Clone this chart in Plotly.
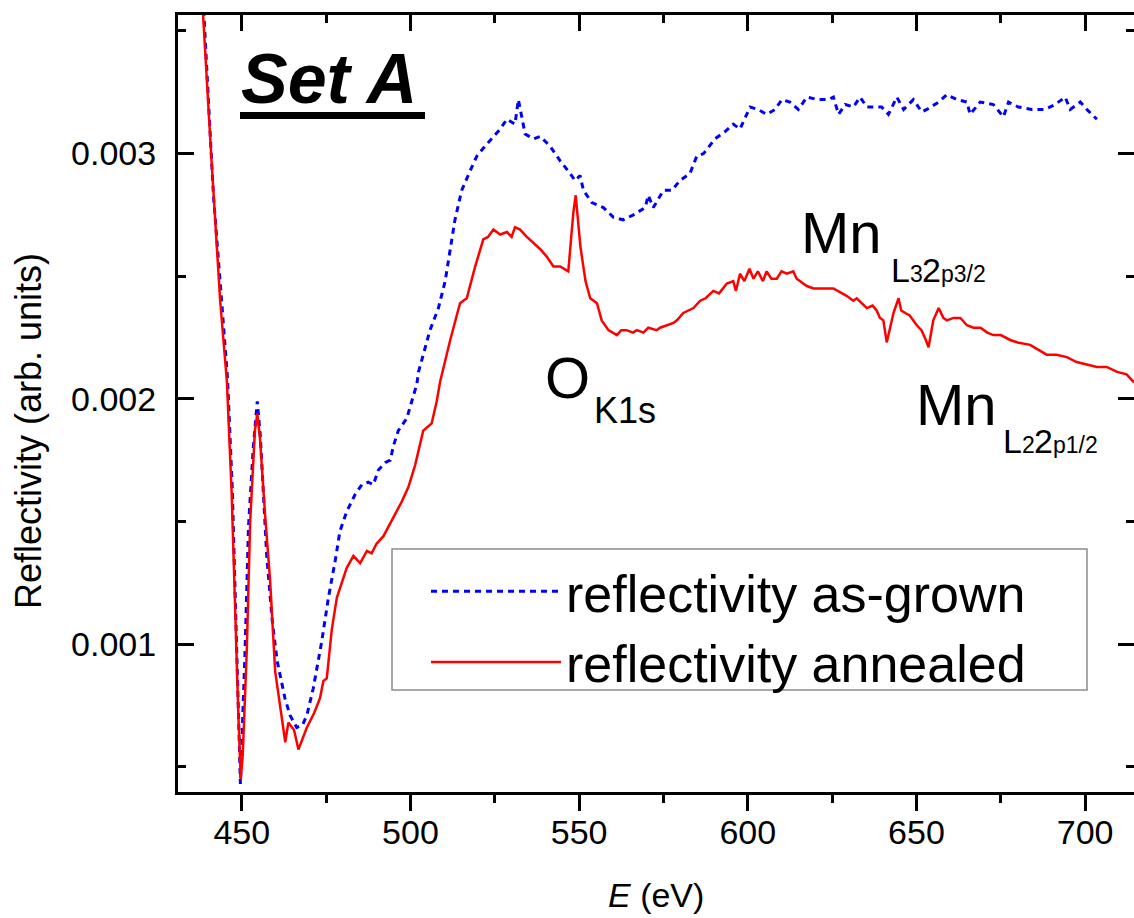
import plotly.graph_objects as go

# ---------------- data ----------------
energy_asgrown = [438.2, 441.6, 443.8, 445.8, 447.2, 449.0, 449.6, 451.0, 452.0, 453.4, 454.6, 455.5,
                  456.4, 457.4, 459.0, 460.5, 462.8, 464.3, 466.3, 468.0, 469.3, 471.2, 473.7, 475.7,
                  477.7, 479.1, 480.1, 481.1, 483.6, 485.6, 487.5, 489.0, 490.5, 492.5, 494.0, 495.0,
                  496.4, 498.9, 500.4, 501.9, 502.4, 505.8, 508.3, 510.3, 513.2, 515.2, 517.7, 519.7,
                  522.1, 524.6, 526.6, 528.6, 531.0, 532.0, 533.0, 534.0, 536.5, 538.5, 541.4, 544.4,
                  547.3, 548.8, 550.3, 551.3, 553.8, 557.2, 560.2, 563.1, 566.1, 569.6, 570.5, 572.0,
                  575.0, 577.5, 579.9, 582.9, 584.9, 586.9, 590.3, 593.3, 595.7, 597.7, 600.7, 603.0,
                  605.6, 608.1, 610.1, 612.5, 615.0, 617.5, 620.9, 623.9, 625.4, 626.9, 628.9, 631.3,
                  633.3, 635.3, 639.7, 641.7, 644.2, 646.2, 649.1, 651.6, 653.1, 656.6, 659.0, 662.0,
                  665.0, 665.9, 668.9, 672.8, 675.8, 677.3, 680.2, 684.2, 688.1, 691.1, 694.1, 695.6,
                  698.6, 700.5, 703.5]
refl_asgrown = [0.00372, 0.00283, 0.00244, 0.00208, 0.00163, 0.00072, 0.00043, 0.00098, 0.00148, 0.00180,
                0.00199, 0.00185, 0.00164, 0.00136, 0.00110, 0.00093, 0.00078, 0.00071, 0.00066, 0.00067,
                0.00071, 0.00082, 0.00101, 0.00119, 0.00134, 0.00146, 0.00150, 0.00154, 0.00161, 0.00165,
                0.00166, 0.00165, 0.00171, 0.00174, 0.00175, 0.00181, 0.00187, 0.00192, 0.00199, 0.00206,
                0.00211, 0.00228, 0.00237, 0.00248, 0.00273, 0.00285, 0.00293, 0.00299, 0.00303, 0.00307,
                0.00310, 0.00314, 0.00312, 0.00322, 0.00315, 0.00308, 0.00306, 0.00307, 0.00303, 0.00297,
                0.00292, 0.00289, 0.00291, 0.00285, 0.00280, 0.00278, 0.00274, 0.00273, 0.00275, 0.00278,
                0.00283, 0.00278, 0.00285, 0.00285, 0.00289, 0.00292, 0.00299, 0.00300, 0.00306, 0.00309,
                0.00312, 0.00310, 0.00319, 0.00318, 0.00316, 0.00318, 0.00322, 0.00321, 0.00318, 0.00323,
                0.00322, 0.00322, 0.00323, 0.00316, 0.00320, 0.00319, 0.00323, 0.00319, 0.00319, 0.00316,
                0.00323, 0.00318, 0.00322, 0.00317, 0.00318, 0.00321, 0.00324, 0.00322, 0.00321, 0.00316,
                0.00321, 0.00320, 0.00315, 0.00321, 0.00319, 0.00318, 0.00318, 0.00320, 0.00323, 0.00318,
                0.00321, 0.00318, 0.00314]

energy_annealed = [438.0, 438.6, 441.0, 443.6, 445.6, 447.0, 449.0, 449.7, 450.3, 451.5, 452.5, 453.9,
                   454.6, 455.4, 456.9, 458.4, 459.9, 461.5, 462.9, 463.8, 465.5, 466.8, 469.3, 471.5,
                   473.2, 474.2, 475.2, 476.7, 478.2, 481.1, 483.1, 485.1, 487.1, 488.5, 490.0, 492.0,
                   494.0, 497.4, 499.4, 501.4, 503.8, 506.3, 507.8, 508.8, 511.8, 514.7, 516.7, 519.2,
                   521.6, 523.0, 524.6, 526.6, 528.6, 530.0, 531.0, 532.5, 534.5, 537.0, 538.5, 540.4,
                   542.4, 544.4, 546.8, 548.3, 549.0, 550.4, 551.9, 553.3, 555.3, 556.7, 558.7, 561.2,
                   562.5, 564.1, 566.0, 567.1, 569.1, 570.5, 573.0, 574.0, 576.0, 578.0, 579.0, 580.9,
                   583.9, 585.9, 587.5, 589.8, 591.5, 593.8, 595.7, 596.5, 597.7, 599.0, 600.5, 601.7,
                   603.0, 604.5, 605.6, 607.0, 608.6, 610.0, 611.6, 613.5, 614.5, 617.5, 619.5, 621.4,
                   625.4, 629.3, 631.3, 632.3, 635.3, 637.0, 638.2, 639.2, 640.2, 641.2, 642.3, 643.2,
                   644.7, 645.5, 646.7, 648.0, 650.1, 651.5, 652.8, 653.6, 655.0, 656.6, 658.0, 659.0,
                   661.0, 663.0, 665.0, 666.9, 669.0, 671.0, 672.8, 675.0, 677.8, 680.0, 683.7, 686.0,
                   688.6, 691.5, 694.6, 697.5, 700.5, 703.5, 706.4, 709.5, 712.3, 714.3, 716.0]
refl_annealed = [0.00372, 0.00355, 0.00298, 0.00240, 0.00207, 0.00162, 0.00071, 0.00045, 0.00055, 0.00098,
                 0.00150, 0.00187, 0.00194, 0.00184, 0.00153, 0.00126, 0.00089, 0.00074, 0.00060, 0.00068,
                 0.00065, 0.00057, 0.00066, 0.00072, 0.00078, 0.00085, 0.00086, 0.00106, 0.00119, 0.00131,
                 0.00136, 0.00133, 0.00138, 0.00137, 0.00141, 0.00144, 0.00149, 0.00158, 0.00164, 0.00173,
                 0.00187, 0.00190, 0.00199, 0.00207, 0.00224, 0.00239, 0.00241, 0.00254, 0.00265, 0.00266,
                 0.00269, 0.00267, 0.00268, 0.00266, 0.00270, 0.00269, 0.00266, 0.00263, 0.00261, 0.00258,
                 0.00254, 0.00254, 0.00252, 0.00276, 0.00283, 0.00262, 0.00248, 0.00241, 0.00239, 0.00232,
                 0.00228, 0.00226, 0.00228, 0.00228, 0.00227, 0.00228, 0.00227, 0.00229, 0.00228, 0.00229,
                 0.00230, 0.00231, 0.00232, 0.00235, 0.00237, 0.00240, 0.00241, 0.00244, 0.00243, 0.00247,
                 0.00248, 0.00244, 0.00251, 0.00248, 0.00253, 0.00249, 0.00252, 0.00248, 0.00252, 0.00249,
                 0.00249, 0.00252, 0.00251, 0.00252, 0.00249, 0.00246, 0.00245, 0.00245, 0.00245, 0.00242,
                 0.00240, 0.00241, 0.00237, 0.00238, 0.00236, 0.00233, 0.00232, 0.00223, 0.00230, 0.00235,
                 0.00241, 0.00236, 0.00235, 0.00234, 0.00230, 0.00228, 0.00224, 0.00221, 0.00232, 0.00237,
                 0.00233, 0.00232, 0.00233, 0.00233, 0.00230, 0.00229, 0.00229, 0.00227, 0.00226, 0.00226,
                 0.00224, 0.00223, 0.00222, 0.00220, 0.00218, 0.00218, 0.00217, 0.00215, 0.00214, 0.00213,
                 0.00213, 0.00211, 0.00210, 0.00207, 0.00206]

series_names = ["reflectivity as-grown", "reflectivity annealed"]
x_tick_values = [450, 500, 550, 600, 650, 700]
y_tick_values = [0.001, 0.002, 0.003]
y_tick_labels = ["0.001", "0.002", "0.003"]

# ---------------- layout geometry ----------------
W, H = 1134, 918
L, R, T, B = 178, 1134, 15, 792
X_RANGE = [431.1, 714.5]
Y_RANGE = [0.000397, 0.003565]
FONT = "Liberation Sans, Arial, sans-serif"


def px(x):
    return (x - L) / (R - L)


def py(y):
    return (B - y) / (B - T)


fig = go.Figure()
fig.add_trace(go.Scatter(x=energy_asgrown, y=refl_asgrown, mode="lines", name=series_names[0],
                         line=dict(color="#0000ff", width=3, dash="6px,5px")))
fig.add_trace(go.Scatter(x=energy_annealed, y=refl_annealed, mode="lines", name=series_names[1],
                         line=dict(color="#ff0000", width=2.5)))
# invisible trace to carry the top x-axis and right y-axis
fig.add_trace(go.Scatter(x=[X_RANGE[0]], y=[Y_RANGE[0]], xaxis="x2", yaxis="y2", mode="lines",
                         showlegend=False, hoverinfo="skip", line=dict(color="rgba(0,0,0,0)")))

tick_font = dict(family=FONT, size=34, color="black")
fig.update_layout(
    width=W, height=H,
    margin=dict(l=L, r=W - R, t=T, b=H - B, pad=0),
    paper_bgcolor="white", plot_bgcolor="white",
    showlegend=True,
    xaxis=dict(range=X_RANGE, tickmode="array", tickvals=x_tick_values,
               ticks="outside", ticklen=16, tickwidth=3, tickcolor="black",
               minor=dict(dtick=25, tick0=0, ticks="outside", ticklen=8, tickwidth=3, tickcolor="black"),
               showline=True, linecolor="black", linewidth=3, mirror=False,
               showgrid=False, zeroline=False, tickfont=tick_font, ticklabelstandoff=-8),
    xaxis2=dict(range=X_RANGE, overlaying="x", side="top", tickmode="array", tickvals=x_tick_values,
                ticks="inside", ticklen=16, tickwidth=3, tickcolor="black",
                minor=dict(dtick=25, tick0=0, ticks="inside", ticklen=8, tickwidth=3, tickcolor="black"),
                showline=True, linecolor="black", linewidth=3, showticklabels=False,
                showgrid=False, zeroline=False),
    yaxis=dict(range=Y_RANGE, tickmode="array", tickvals=y_tick_values, ticktext=y_tick_labels,
               ticks="inside", ticklen=16, tickwidth=3, tickcolor="black",
               minor=dict(dtick=0.0005, tick0=0, ticks="inside", ticklen=8, tickwidth=3, tickcolor="black"),
               showline=True, linecolor="black", linewidth=3, mirror=False,
               showgrid=False, zeroline=False, tickfont=tick_font, ticklabelstandoff=12),
    yaxis2=dict(range=Y_RANGE, overlaying="y", side="right", tickmode="array", tickvals=y_tick_values,
                ticks="inside", ticklen=16, tickwidth=3, tickcolor="black",
                minor=dict(dtick=0.0005, tick0=0, ticks="inside", ticklen=8, tickwidth=3, tickcolor="black"),
                showline=False, showticklabels=False, showgrid=False, zeroline=False),
    legend=dict(x=px(393), y=py(551), xanchor="left", yanchor="top",
                bgcolor="rgba(255,255,255,0)", borderwidth=0,
                font=dict(family=FONT, size=52, color="black"),
                itemwidth=130, indentation=33, tracegroupgap=0),
)

# legend frame
fig.add_shape(type="rect", xref="paper", yref="paper", x0=px(392), x1=px(1087), y0=py(690), y1=py(549),
              fillcolor="rgba(0,0,0,0)", line=dict(color="#8c8c8c", width=1.5), layer="above")

annotations = []


def add_text(text, x_left, baseline, size, bold=False, italic=False, angle=0, xanchor="left"):
    center = baseline - 0.3465 * size
    t = text
    if bold:
        t = "<b>" + t + "</b>"
    if italic:
        t = "<i>" + t + "</i>"
    annotations.append(dict(text=t, x=px(x_left), y=py(center), xref="paper", yref="paper",
                            xanchor=xanchor, yanchor="middle", showarrow=False, borderpad=0,
                            textangle=angle, font=dict(family=FONT, size=size, color="black")))


add_text("Set A", 240, 103, 70, bold=True, italic=True)
add_text("O", 544, 398, 58)
add_text("K1s", 593, 423, 36)
add_text("Mn", 800, 253, 58)
add_text("L", 890, 282, 34)
add_text("3", 909, 282, 23)
add_text("2", 921, 282, 34)
add_text("p3/2", 940, 282, 23)
add_text("Mn", 915, 425, 58)
add_text("L", 1002, 453, 34)
add_text("2", 1021, 453, 23)
add_text("2", 1033, 453, 34)
add_text("p1/2", 1052, 453, 23)

# axis titles
annotations.append(dict(text="<i>E</i> (eV)", x=px(656), y=py(895), xref="paper", yref="paper",
                        xanchor="center", yanchor="middle", showarrow=False,
                        font=dict(family=FONT, size=34, color="black")))
annotations.append(dict(text="Reflectivity (arb. units)", x=px(28), y=py(431), xref="paper", yref="paper",
                        xanchor="center", yanchor="middle", showarrow=False, textangle=-90,
                        font=dict(family=FONT, size=36, color="black")))
fig.update_layout(annotations=annotations)

# thick underline below "Set A"
fig.add_shape(type="rect", xref="paper", yref="paper", x0=px(240), x1=px(425), y0=py(119), y1=py(112),
              fillcolor="black", line=dict(width=0))

fig.write_html("out.html")
